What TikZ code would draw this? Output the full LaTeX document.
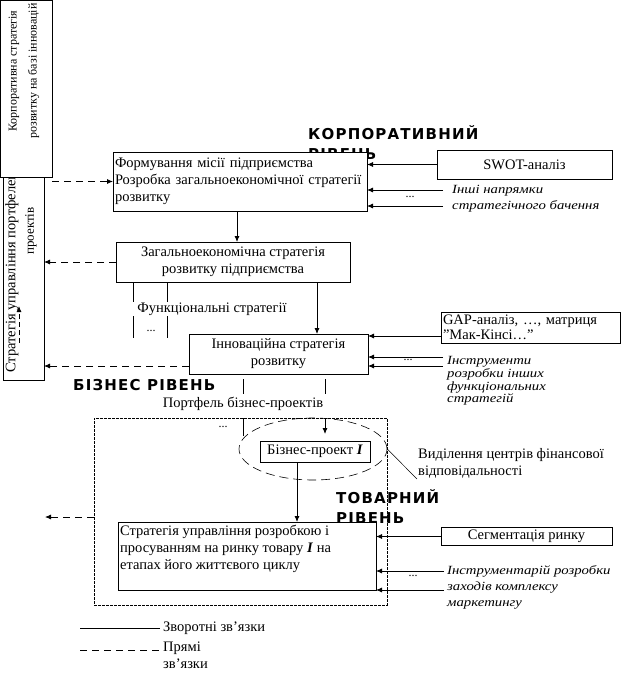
\documentclass[tikz,border=0pt]{standalone}
\usepackage{fontspec}
\setmainfont{Liberation Serif}
\newfontfamily\itfont[FakeStretch=1.18]{Liberation Serif}
\newfontfamily\hdrfont[LetterSpace=8]{DejaVu Sans}
\usetikzlibrary{arrows.meta,shapes.geometric}
\begin{document}
\begin{tikzpicture}[x=1pt,y=-1pt,
  every node/.style={font=\fontsize{14.5}{17}\selectfont},
  box/.style={draw, fill=white, line width=0.8pt, inner sep=2pt, outer sep=0pt},
  arr/.style={-{Latex[length=6pt,width=5pt]}, line width=0.8pt},
  darr/.style={arr, dash pattern=on 7pt off 5pt},
  ital/.style={font=\fontsize{12.5}{16}\selectfont\itfont\itshape, align=left, anchor=west, inner sep=0pt},
  hdr/.style={font=\fontsize{15}{20}\selectfont\hdrfont\bfseries, align=left, inner sep=0pt},
  dots/.style={inner sep=0pt, font=\fontsize{12}{12}\selectfont},
  plain/.style={inner sep=0pt}]
\useasboundingbox (0,0) rectangle (622,673);

% ---------- left rotated boxes ----------
\node[box, minimum width=41pt, minimum height=212pt] (port) at (23.5,274) {};
\node[plain, rotate=90, anchor=west] (porttxt) at (12,373) {Стратегія управління портфелем};
\node[plain, rotate=90, font=\fontsize{13}{17}\selectfont] (porttxt2) at (31,231) {проектів};
\coordinate (sa) at (19,343);
\coordinate (sb) at (19,306);
\draw[arr, dash pattern=on 5pt off 3pt] (sa) -- (sb);

\node[box, minimum width=52pt, minimum height=177pt] (corp) at (26,88.5) {};
\node[plain, rotate=90, align=center, font=\fontsize{12}{20}\selectfont] (corptxt) at (24,71) {Корпоративна стратегія\\розвитку на базі інновацій};

% ---------- corporate level ----------
\node[hdr, anchor=north west] (hcorp) at (308,125) {КОРПОРАТИВНИЙ\\РІВЕНЬ};

\node[box, minimum width=254pt, minimum height=59pt, text width=250pt, align=left] (form) at (240,181.5)
  {Формування місії підприємства\\Розробка загальноекономічної стратегії\\розвитку};
\draw[darr] (corp.east |- form.west) -- (form.west);

\node[box, minimum width=175pt, minimum height=29pt] (swot) at (524.5,164.5) {SWOT-аналіз};
\draw[arr] (swot.west) -- (swot.west -| form.east);

\node[ital] (inshi) at (452,199) {Інші напрямки\\стратегічного бачення};
\coordinate (i1) at (443,190);
\coordinate (i2) at (443,206);
\draw[arr] (i1) -- (i1 -| form.east);
\draw[arr] (i2) -- (i2 -| form.east);
\node[dots] (d1) at (410,197) {...};

\node[box, minimum width=234pt, minimum height=40pt, align=center] (zag) at (233,262)
  {Загальноекономічна стратегія\\розвитку підприємства};
\coordinate (v1) at (237,0);
\draw[arr] (v1 |- form.south) -- (v1 |- zag.north);
\draw[darr] (zag.west) -- (zag.west -| port.east);

% functional strategies
\coordinate (f1) at (133,283);
\coordinate (f2) at (133,302);
\coordinate (f3) at (133,316);
\coordinate (f4) at (133,338);
\coordinate (f5) at (167,283);
\coordinate (f6) at (167,302);
\coordinate (f7) at (167,316);
\coordinate (f8) at (167,338);
\draw[line width=0.8pt] (f1) -- (f2) (f3) -- (f4) (f5) -- (f6) (f7) -- (f8);
\node[plain] (func) at (212,309) {Функціональні стратегії};
\node[dots] (d2) at (151,331) {...};

\node[box, minimum width=179pt, minimum height=40pt, align=center] (inn) at (278.5,354)
  {Інноваційна стратегія\\розвитку};
\coordinate (v2) at (317,0);
\draw[arr] (v2 |- zag.south) -- (v2 |- inn.north);
\coordinate (d3) at (0,366);
\draw[darr] (inn.west |- d3) -- (port.east |- d3);

\node[box, minimum width=179pt, minimum height=31pt, text width=175pt, align=left,
  font=\fontsize{14.5}{15}\selectfont] (gap) at (530.5,327.5) {GAP-аналіз, …, матриця\\"Мак-Кінсі…"};
\coordinate (g0) at (0,336);
\draw[arr] (gap.west |- g0) -- (inn.east |- g0);
\coordinate (g1) at (443,357);
\coordinate (g2) at (443,366);
\draw[arr] (g1) -- (g1 -| inn.east);
\draw[arr] (g2) -- (g2 -| inn.east);
\node[dots] (d4) at (408,360) {...};
\node[ital, font=\fontsize{12.5}{12.8}\selectfont\itfont\itshape] (instr) at (447,381) {Інструменти\\розробки інших\\функціональних\\стратегій};

% ---------- business level ----------
\node[hdr, anchor=west] (hbus) at (73,385) {БІЗНЕС РІВЕНЬ};
\coordinate (p1) at (243,379);
\coordinate (p2) at (243,394);
\coordinate (p3) at (325,379);
\coordinate (p4) at (325,394);
\draw[line width=0.8pt] (p1) -- (p2) (p3) -- (p4);
\node[plain] (portf) at (243,404) {Портфель бізнес-проектів};

\node[draw, line width=0.6pt, dash pattern=on 3pt off 1pt, minimum width=293pt, minimum height=187pt, inner sep=0pt] (frame) at (240.5,511.5) {};
\node[draw, ellipse, line width=0.6pt, dash pattern=on 9pt off 5pt, minimum width=148pt, minimum height=62pt, inner sep=0pt] (ell) at (313,449) {};

\coordinate (p5) at (243,418);
\coordinate (p6) at (243,436);
\coordinate (p7) at (325,418);
\coordinate (p8) at (325,434);
\draw[line width=0.8pt] (p5) -- (p6);
\draw[arr] (p7) -- (p8);
\node[dots] (d5) at (223,427) {...};

\node[box, minimum width=110pt, minimum height=21pt] (bp) at (315,451.5) {Бізнес-проект \textbf{\textit{I}}};
\node[plain, align=left, anchor=south west, inner sep=1pt] (vid) at (417,479) {Виділення центрів фінансової\\відповідальності};
\draw[line width=0.5pt] (ell.east) -- (vid.south west);

% ---------- product level ----------
\node[hdr, anchor=north west] (hprod) at (336,489) {ТОВАРНИЙ\\РІВЕНЬ};

\node[box, minimum width=258pt, minimum height=68pt] (strat) at (247,556) {};
\node[plain, anchor=north west, align=left] (strattxt) at (120,525)
  {Стратегія управління розробкою і\\просуванням на ринку товару \textbf{\textit{I}} на\\етапах його життєвого циклу};
\coordinate (v3) at (297,0);
\draw[arr] (v3 |- bp.south) -- (v3 |- strat.north);
\coordinate (dl) at (45,517);
\draw[darr] (frame.west |- dl) -- (dl);

\node[box, minimum width=171pt, minimum height=18pt] (seg) at (526.5,536.5) {Сегментація ринку};
\draw[arr] (seg.west) -- (seg.west -| strat.east);
\coordinate (s1) at (444,571);
\coordinate (s2) at (444,590);
\draw[arr] (s1) -- (s1 -| strat.east);
\draw[arr] (s2) -- (s2 -| strat.east);
\node[dots] (d6) at (413,576) {...};
\node[ital] (instr2) at (447,587) {Інструментарій розробки\\заходів комплексу\\маркетингу};

% ---------- legend ----------
\coordinate (la) at (80,628);
\coordinate (lb) at (160,628);
\coordinate (lc) at (80,650);
\coordinate (ld) at (160,650);
\draw[line width=0.8pt] (la) -- (lb);
\draw[line width=0.8pt, dash pattern=on 7pt off 5pt] (lc) -- (ld);
\node[plain, anchor=west] (leg1) at (163,628) {Зворотні зв’язки};
\node[plain, anchor=north west, align=left] (leg2) at (163,642) {Прямі\\зв’язки};
\end{tikzpicture}
\end{document}
